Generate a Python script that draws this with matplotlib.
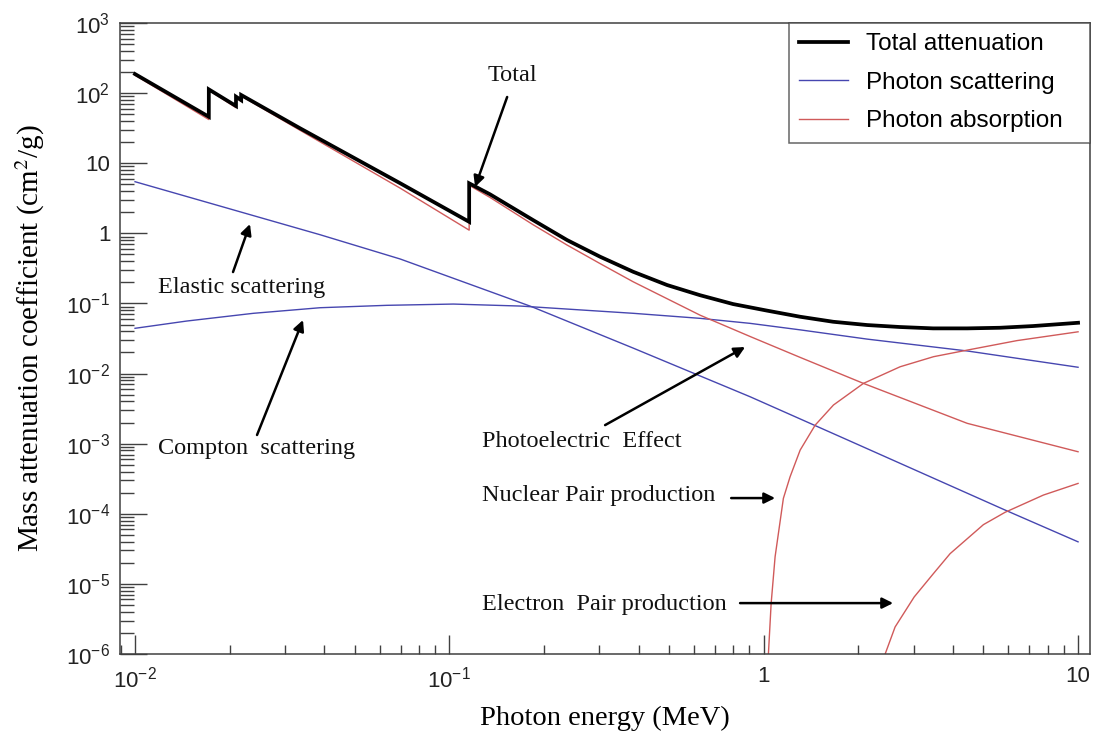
import numpy as np
import matplotlib
matplotlib.use("Agg")
import matplotlib.pyplot as plt
from matplotlib.ticker import LogLocator, FixedLocator, FixedFormatter, NullFormatter

plt.rcParams["mathtext.fontset"] = "custom"
plt.rcParams["mathtext.rm"] = "Liberation Sans"
plt.rcParams["mathtext.it"] = "Liberation Sans:italic"
plt.rcParams["mathtext.bf"] = "Liberation Sans:bold"

# ---- data: photon energy (MeV) and mass attenuation coefficient (cm^2/g) ----
E_total = [0.01, 0.01717, 0.01717, 0.02095, 0.02095, 0.02176, 0.02176, 0.0335,
           0.0698, 0.1156, 0.1156, 0.1347, 0.1845, 0.2368, 0.3017, 0.3841, 0.4929,
           0.6275, 0.799, 1.025, 1.306, 1.663, 2.133, 2.716, 3.459, 4.438, 5.65,
           7.195, 10.0]
mu_total = [187, 46, 113, 65.5, 89, 79.4, 94, 31.5,
            5.17, 1.46, 5.17, 3.6, 1.548, 0.802, 0.4637, 0.2833, 0.183,
            0.131, 0.098, 0.079, 0.0646, 0.0548, 0.0492, 0.0461, 0.0441, 0.0441, 0.045,
            0.0476, 0.053]

E_photo = [0.01, 0.01717, 0.01717, 0.02095, 0.02095, 0.02176, 0.02176, 0.0335,
           0.0698, 0.1156, 0.1156, 0.1347, 0.1845, 0.2368, 0.3017, 0.3841, 0.6275,
           0.909, 1.306, 2.076, 4.44, 10.0]
mu_photo = [180, 42, 110, 62, 86, 76, 91, 29.5,
            4.4, 1.11, 4.85, 3.25, 1.33, 0.681, 0.37, 0.204, 0.068,
            0.0335, 0.017, 7.24e-3, 1.95e-3, 7.67e-4]

E_compton = [0.01, 0.0146, 0.02378, 0.0388, 0.0632, 0.103, 0.168, 0.385, 0.6275,
             0.905, 1.306, 2.133, 4.44, 10.0]
mu_compton = [0.0442, 0.0561, 0.0723, 0.0869, 0.094, 0.098, 0.0918, 0.0723, 0.0613,
              0.052, 0.042, 0.031, 0.021, 0.0123]

E_elastic = [0.01, 0.0388, 0.0698, 0.183, 0.385, 0.905, 1.793, 5.86, 10.0]
mu_elastic = [5.45, 0.955, 0.43, 0.0897, 0.023, 4.67e-3, 1.2e-3, 1.13e-4, 3.98e-5]

E_nuc_pair = [1.03, 1.035, 1.056, 1.087, 1.155, 1.213, 1.306, 1.458, 1.667, 2.076,
              2.716, 3.47, 4.44, 6.39, 10.0]
mu_nuc_pair = [1e-7, 1e-6, 5.27e-6, 2.44e-5, 1.66e-4, 3.37e-4, 8.1e-4, 1.84e-3,
               3.56e-3, 7.24e-3, 0.0125, 0.0174, 0.0216, 0.0295, 0.0394]

E_el_pair = [2.40, 2.434, 2.618, 3.01, 3.47, 3.917, 5.0, 5.86, 7.76, 10.0]
mu_el_pair = [1e-7, 1e-6, 2.43e-6, 6.5e-6, 1.41e-5, 2.7e-5, 7e-5, 1.05e-4, 1.85e-4,
              2.71e-4]

legend_labels = ["Total attenuation", "Photon scattering", "Photon absorption"]

y_tick_vals = [1e-6, 1e-5, 1e-4, 1e-3, 1e-2, 1e-1, 1, 10, 1e2, 1e3]
y_tick_text = [r"$10^{-6}$", r"$10^{-5}$", r"$10^{-4}$", r"$10^{-3}$", r"$10^{-2}$",
               r"$10^{-1}$", "1", "10", r"$10^{2}$", r"$10^{3}$"]
x_tick_vals = [1e-2, 1e-1, 1, 10]
x_tick_text = [r"$10^{-2}$", r"$10^{-1}$", "1", "10"]

# ---- styling ----
BLUE = "#4646b0"
RED = "#d05a5a"
SPINE = "#404040"
SERIF = ["Liberation Serif", "DejaVu Serif"]
SANS = ["Liberation Sans", "DejaVu Sans"]

fig = plt.figure(figsize=(10.97, 7.38), dpi=100)
ax = fig.add_axes([120 / 1097, 1 - 654 / 738, 970 / 1097, 631 / 738])

ax.set_xscale("log")
ax.set_yscale("log")

ax.plot(E_elastic, mu_elastic, color=BLUE, lw=1.0)
ax.plot(E_compton, mu_compton, color=BLUE, lw=1.0, label=legend_labels[1])
ax.plot(E_photo, mu_photo, color=RED, lw=1.0, label=legend_labels[2])
ax.plot(E_nuc_pair, mu_nuc_pair, color=RED, lw=1.0)
ax.plot(E_el_pair, mu_el_pair, color=RED, lw=1.0)
ax.plot(E_total, mu_total, color="black", lw=2.7, label=legend_labels[0],
        solid_joinstyle="miter")

ax.set_xlim(10 ** -2.0478, 10 ** 1.038)
ax.set_ylim(1e-6, 1e3)

ax.xaxis.set_major_locator(FixedLocator(x_tick_vals))
ax.xaxis.set_major_formatter(FixedFormatter(x_tick_text))
ax.xaxis.set_minor_locator(LogLocator(base=10, subs=np.arange(2, 10), numticks=100))
ax.xaxis.set_minor_formatter(NullFormatter())
ax.yaxis.set_major_locator(FixedLocator(y_tick_vals))
ax.yaxis.set_major_formatter(FixedFormatter(y_tick_text))
ax.yaxis.set_minor_locator(LogLocator(base=10, subs=np.arange(2, 10), numticks=100))
ax.yaxis.set_minor_formatter(NullFormatter())

ax.tick_params(axis="both", which="both", direction="in", color=SPINE, width=1.0,
               labelsize=16, labelcolor="#222222")
ax.tick_params(axis="y", which="major", length=19.5, pad=7)
ax.tick_params(axis="y", which="minor", length=10)
ax.tick_params(axis="x", which="major", length=13.5, pad=9)
ax.tick_params(axis="x", which="minor", length=6.5)
for lab in ax.get_xticklabels() + ax.get_yticklabels():
    lab.set_family(SANS)

for s in ax.spines.values():
    s.set_color(SPINE)
    s.set_linewidth(1.1)

ax.set_xlabel("Photon energy (MeV)", fontsize=20.5, family=SERIF, labelpad=10)
ax.set_ylabel("Mass attenuation coefficient (cm$^{2}$/g)", fontsize=21, family=SERIF,
              labelpad=14)
ax.yaxis.label.set_math_fontfamily("stix")
ax.xaxis.label.set_math_fontfamily("stix")

# legend box spans the right part of the top edge; extra room sits right of the text
handles, labels = ax.get_legend_handles_labels()
order = [labels.index(l) for l in legend_labels]
leg = ax.legend([handles[i] for i in order], [labels[i] for i in order],
                loc="upper left", bbox_to_anchor=(0.6897, 0.0, 0.3103, 1.0),
                mode="expand", borderaxespad=0, fancybox=False,
                prop={"family": SANS, "size": 17.5}, handlelength=2.0,
                handletextpad=0.75, labelspacing=0.68, borderpad=0.42)
leg.get_frame().set_edgecolor(SPINE)
leg.get_frame().set_linewidth(1.1)

# ---- annotations ----
ANN = dict(fontsize=17.5, family=SERIF, color="#111111", va="center")
ARROW = dict(arrowstyle="-|>", color="black", lw=1.8, mutation_scale=16,
             shrinkA=0, shrinkB=0)

ax.text(0.1583, 181, "Total", ha="center", **ANN)
ax.annotate("", xy=(0.1207, 4.58), xytext=(0.1527, 88), arrowprops=ARROW)

ax.text(0.01183, 0.1714, "Elastic scattering", ha="left", **ANN)
ax.annotate("", xy=(0.02321, 1.357), xytext=(0.0205, 0.2805), arrowprops=ARROW)

ax.text(0.01183, 8.65e-4, "Compton  scattering", ha="left", **ANN)
ax.annotate("", xy=(0.03423, 0.058), xytext=(0.02444, 1.33e-3), arrowprops=ARROW)

ax.text(0.127, 1.09e-3, "Photoelectric  Effect", ha="left", **ANN)
ax.annotate("", xy=(0.8726, 0.0239), xytext=(0.3129, 1.84e-3), arrowprops=ARROW)

ax.text(0.127, 1.85e-4, "Nuclear Pair production", ha="left", **ANN)
ax.annotate("", xy=(1.087, 1.675e-4), xytext=(0.788, 1.675e-4), arrowprops=ARROW)

ax.text(0.127, 5.15e-6, "Electron  Pair production", ha="left", **ANN)
ax.annotate("", xy=(2.58, 5.32e-6), xytext=(0.841, 5.32e-6), arrowprops=ARROW)

fig.savefig("out.png", dpi=100)
